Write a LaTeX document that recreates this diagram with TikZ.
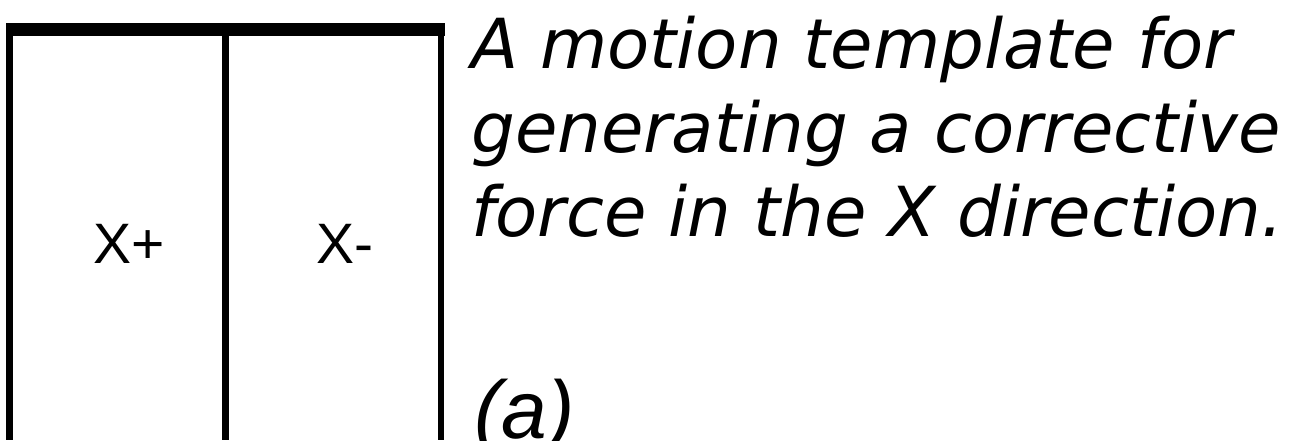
\documentclass[tikz,border=0pt]{standalone}
\usepackage{fontspec}
\setmainfont{DejaVu Sans}
\newfontfamily\arialfont{Liberation Sans}
\begin{document}
\begin{tikzpicture}[x=1pt,y=-1pt,
  wall/.style={line width=6.5pt,line cap=butt},
  topbar/.style={line width=13.5pt,line cap=butt},
  cell/.style={font=\arialfont\fontsize{57}{60}\selectfont,inner sep=0pt,anchor=base west},
  caption/.style={font=\itshape\fontsize{69}{80}\selectfont,inner sep=0pt,anchor=base west}]
\useasboundingbox (0,0) rectangle (1291,440);
\coordinate (tl) at (6,29.5);
\coordinate (tr) at (444.5,29.5);
\coordinate (l0) at (9.3,23);  \coordinate (l1) at (9.3,440);
\coordinate (m0) at (225.3,23); \coordinate (m1) at (225.3,440);
\coordinate (r0) at (441.2,23); \coordinate (r1) at (441.2,440);
\draw[topbar] (tl) -- (tr);
\draw[wall] (l0) -- (l1);
\draw[wall] (m0) -- (m1);
\draw[wall] (r0) -- (r1);
\node[cell] (xp) at (93,263) {X+};
\node[cell] (xm) at (316,263) {X-};
\node[caption] (c1) at (471,68) {A motion template for};
\node[caption] (c2) at (471,152) {generating a corrective};
\node[caption] (c3) at (471,236) {force in the X direction.};
\node[font=\arialfont\itshape\fontsize{82}{90}\selectfont,inner sep=0pt,anchor=base west] (lab) at (474,438) {(a)};
\end{tikzpicture}
\end{document}
